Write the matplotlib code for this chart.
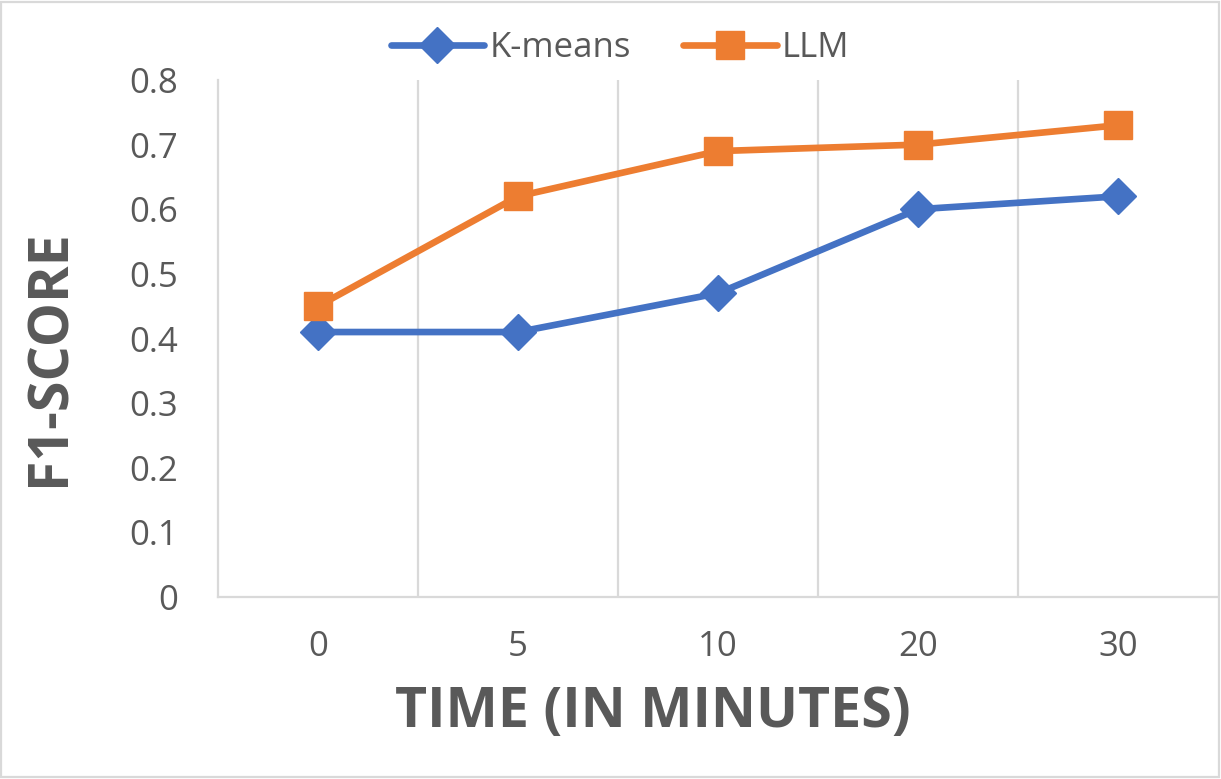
import matplotlib
matplotlib.use("Agg")
import matplotlib.pyplot as plt
from matplotlib.patches import Rectangle

categories = ["0", "5", "10", "20", "30"]
kmeans = [0.41, 0.41, 0.47, 0.60, 0.62]
llm = [0.45, 0.62, 0.69, 0.70, 0.73]
yticks = [0, 0.1, 0.2, 0.3, 0.4, 0.5, 0.6, 0.7, 0.8]
ytick_labels = ["0", "0.1", "0.2", "0.3", "0.4", "0.5", "0.6", "0.7", "0.8"]

TEXT = "#595959"
GRID = "#D9D9D9"
BLUE = "#4472C4"
ORANGE = "#ED7D31"

plt.rcParams['font.family'] = ['Open Sans', 'DejaVu Sans']

fig = plt.figure(figsize=(12.21, 7.79), dpi=100)
ax = fig.add_axes([218/1221, (779-597)/779, 1000/1221, (597-80)/779])

x = list(range(len(categories)))
ax.plot(x, kmeans, color=BLUE, lw=4.8, marker='D', ms=18, mec=BLUE, mfc=BLUE, mew=1,
        label='K-means', zorder=3, solid_capstyle='round')
ax.plot(x, llm, color=ORANGE, lw=4.8, marker='s', ms=20, mec=ORANGE, mfc=ORANGE, mew=1,
        label='LLM', zorder=3, solid_capstyle='round')

ax.set_xlim(-0.5, len(categories) - 0.5)
ax.set_ylim(0, 0.8)
ax.set_xticks(x)
ax.set_xticklabels(categories)
ax.set_yticks(yticks)
ax.set_yticklabels(ytick_labels)
ax.set_xticks([i + 0.5 for i in range(len(categories) - 1)], minor=True)
ax.grid(True, which='minor', axis='x', color=GRID, lw=1.6)
ax.tick_params(which='both', length=0)
ax.tick_params(axis='x', pad=24, labelsize=25, labelcolor=TEXT)
ax.tick_params(axis='y', pad=29, labelsize=25, labelcolor=TEXT)
for s in ['top', 'right']:
    ax.spines[s].set_visible(False)
for s in ['left', 'bottom']:
    ax.spines[s].set_color(GRID)
    ax.spines[s].set_linewidth(1.6)

fig.text(653/1221, 1 - 712/779, "TIME (IN MINUTES)", ha='center', va='center',
         fontsize=40, fontweight='bold', color=TEXT)
fig.text(50/1221, 1 - 358/779, "F1-SCORE", ha='center', va='center', rotation=90,
         fontsize=40, fontweight='bold', color=TEXT)

fig.legend(loc='center', bbox_to_anchor=(620/1221, 1 - 48/779), ncol=2, frameon=False,
           fontsize=25, labelcolor=TEXT, handlelength=2.7, handletextpad=0.15, columnspacing=1.5)

fig.patches.append(Rectangle((0.001, 0.002), 0.997, 0.995, transform=fig.transFigure,
                             fill=False, edgecolor=GRID, lw=1.6))

fig.savefig("out.png", dpi=100)
